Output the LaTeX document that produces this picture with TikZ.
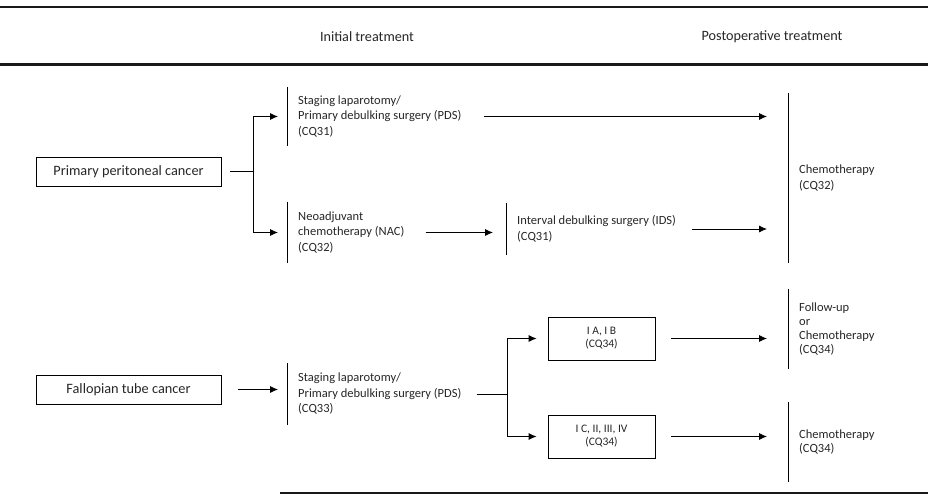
\documentclass[tikz,border=0pt]{standalone}
\usepackage{fontspec}
\setmainfont{Carlito}
\usetikzlibrary{arrows.meta}

\begin{document}
\begin{tikzpicture}[
    x=1pt, y=-1pt,
    >={Latex[length=8pt,width=7pt]},
    every node/.style={font=\fontsize{12.5}{15.5}\selectfont, text=black!85},
    casebox/.style={draw, line width=0.8pt, minimum width=185pt, minimum height=29pt,
      inner sep=0pt, font=\fontsize{14.3}{16}\selectfont},
    stagebox/.style={draw, line width=0.8pt, minimum width=107pt, minimum height=43pt,
      inner sep=0pt, align=center, font=\fontsize{11.5}{13}\selectfont},
    bartext/.style={anchor=west, align=left, inner xsep=11pt, inner ysep=0pt, minimum height=#1},
    rule/.style={line width=2.5pt, black!90},
    link/.style={line width=0.8pt},
  ]
  \useasboundingbox (0,0) rectangle (928,495);

  \draw[rule] (0,7) -- (928,7);
  \draw[rule, line width=3pt] (0,64) -- (928,64);
  \draw[rule, line width=2pt] (280,493) -- (928,493);
  \node[font=\fontsize{14.2}{16}\selectfont] (initial) at (367,37) {Initial treatment};
  \node[font=\fontsize{14.2}{16}\selectfont] (postop) at (772,37) {Postoperative treatment};

  \node[casebox] (ppc) at (128.5,171.5) {Primary peritoneal cancer};
  \node[casebox] (ftc) at (128.5,389.5) {Fallopian tube cancer};

  \node[bartext=59pt] (pds) at (287,116.5) {Staging laparotomy/\\Primary debulking surgery (PDS)\\(CQ31)};
  \node[bartext=61pt] (nac) at (287,232.5) {Neoadjuvant\\chemotherapy (NAC)\\(CQ32)};
  \node[bartext=52pt] (ids) at (506,229) {Interval debulking surgery (IDS)\\(CQ31)};
  \node[bartext=170pt] (chemo) at (788,178) {Chemotherapy\\(CQ32)};
  \node[bartext=62pt] (pdsb) at (287,394) {Staging laparotomy/\\Primary debulking surgery (PDS)\\(CQ33)};
  \node[stagebox] (early) at (601.5,338.5) {I A, I B\\(CQ34)};
  \node[stagebox] (late) at (601.5,436.5) {I C, II, III, IV\\(CQ34)};
  \node[bartext=80pt, font=\fontsize{12.5}{14}\selectfont] (follow) at (788,329) {Follow-up\\or\\Chemotherapy\\(CQ34)};
  \node[bartext=80pt, font=\fontsize{12.5}{14}\selectfont] (chemob) at (788,442) {Chemotherapy\\(CQ34)};

  \foreach \n in {pds,nac,ids,chemo,pdsb,follow,chemob}
    \draw[link] (\n.north west) -- (\n.south west);

  \coordinate (splitA) at (253,171.5);
  \coordinate (splitB) at (507,387);

  \draw[link, shorten <=9pt] (ppc) -- (splitA);
  \draw[link, ->, shorten >=9pt] (splitA) |- (pds.west);
  \draw[link, ->, shorten >=9pt] (splitA) |- (nac.west);
  \draw[link, ->, shorten <=11pt, shorten >=21pt] (pds.east) -- (pds.east -| chemo.west);
  \draw[link, ->, shorten <=10pt, shorten >=13pt] (nac.east) -- (nac.east -| ids.west);
  \draw[link, ->, shorten <=5pt, shorten >=21pt] (ids.east) -- (ids.east -| chemo.west);

  \draw[link, ->, shorten <=17pt, shorten >=9pt] (ftc.east) -- (ftc.east -| pdsb.west);
  \draw[link, shorten <=4pt] (pdsb.east) -- (pdsb.east -| splitB) -- (splitB);
  \draw[link, ->, shorten >=11pt] (splitB) |- (early.west);
  \draw[link, ->, shorten >=11pt] (splitB) |- (late.west);
  \draw[link, ->, shorten <=16pt, shorten >=21pt] (early.east) -- (early.east -| follow.west);
  \draw[link, ->, shorten <=16pt, shorten >=21pt] (late.east) -- (late.east -| chemob.west);
\end{tikzpicture}
\end{document}
